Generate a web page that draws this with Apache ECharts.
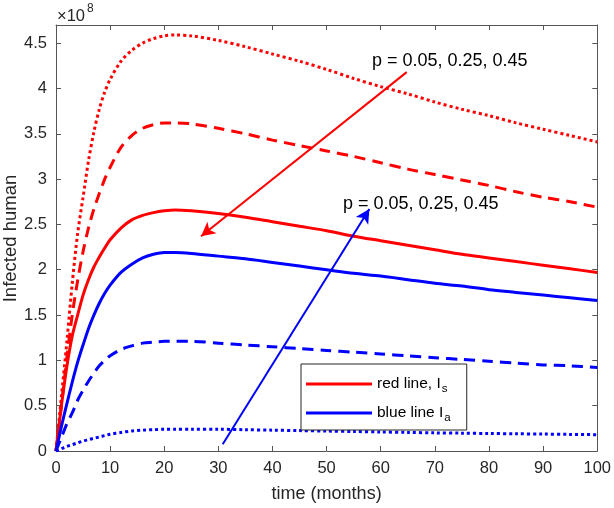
<!DOCTYPE html>
<html><head><meta charset="utf-8">
<script src="https://cdn.jsdelivr.net/npm/echarts@6/dist/echarts.min.js"></script>
<style>html,body{margin:0;padding:0;background:#fff}#c{width:614px;height:508px}</style>
</head><body><div id="c"></div>
<script>
// time (months)
const time = [0,1,2,3,4,5,6,7,8,9,10,12,14,16,18,20,22,25,30,35,40,45,50,55,60,65,70,75,80,85,90,95,100];
// Infected human, in units of 1e8
const redDotted = [0,0.6,1.2,1.85,2.4,2.8,3.2,3.52,3.77,3.96,4.1,4.3,4.42,4.5,4.55,4.58,4.59,4.58,4.53,4.46,4.38,4.30,4.21,4.11,4.02,3.94,3.85,3.77,3.70,3.62,3.55,3.48,3.41];
const redDashed = [0,0.5,1.03,1.5,1.88,2.2,2.46,2.67,2.84,3.0,3.13,3.35,3.48,3.56,3.6,3.62,3.62,3.61,3.56,3.50,3.43,3.37,3.31,3.25,3.18,3.11,3.05,2.99,2.93,2.86,2.80,2.75,2.69];
const redSolid = [0,0.5,0.93,1.27,1.5,1.72,1.89,2.03,2.14,2.24,2.33,2.46,2.55,2.6,2.63,2.65,2.66,2.65,2.62,2.58,2.53,2.48,2.43,2.37,2.32,2.27,2.22,2.17,2.13,2.09,2.05,2.01,1.97];
const blueSolid = [0,0.27,0.52,0.76,0.98,1.17,1.35,1.5,1.63,1.74,1.83,1.97,2.06,2.13,2.17,2.19,2.19,2.18,2.15,2.12,2.08,2.04,2.0,1.96,1.93,1.89,1.85,1.82,1.78,1.75,1.72,1.69,1.66];
const blueDashed = [0,0.15,0.3,0.42,0.56,0.67,0.77,0.86,0.94,1.0,1.05,1.12,1.16,1.19,1.2,1.21,1.21,1.21,1.19,1.17,1.15,1.13,1.11,1.09,1.07,1.05,1.03,1.01,0.99,0.97,0.95,0.94,0.92];
const blueDotted = [0,0.025,0.05,0.07,0.09,0.11,0.125,0.14,0.155,0.17,0.185,0.205,0.22,0.23,0.235,0.24,0.24,0.24,0.24,0.235,0.23,0.225,0.22,0.215,0.21,0.205,0.2,0.197,0.193,0.19,0.187,0.183,0.18];
// annotation arrows [from, to] in data units
const redArrow = [[64.8,4.18],[26.8,2.37]];
const blueArrow = [[30.8,0.074],[57.9,2.67]];
const annotText = 'p = 0.05, 0.25, 0.45';
const legendNames = ['red line, I_s','blue line I_a'];

const FONT = "'Liberation Sans', Arial, Helvetica, sans-serif";
const pairs = arr => time.map((t,i)=>[t,arr[i]]);
const RED = '#ff0000', BLUE = '#0000ff';
function line(name, data, color, type){
  return {name, type:'line', data:pairs(data), smooth:0.3, symbol:'none', showSymbol:false,
    lineStyle:{color, width:3, type, cap:'butt'}, itemStyle:{color}, z:3};
}
function arrow(a, color){
  return {silent:true, symbol:['none','arrow'], symbolSize:[11,14], animation:false,
    label:{show:false}, lineStyle:{color, width:2, type:'solid'},
    data:[[{coord:a[0]},{coord:a[1]}]]};
}
const s = [
  line('red dotted', redDotted, RED, [3,3]),
  line('red dashed', redDashed, RED, [11,7]),
  line(legendNames[0], redSolid, RED, 'solid'),
  line(legendNames[1], blueSolid, BLUE, 'solid'),
  line('blue dashed', blueDashed, BLUE, [11,7]),
  line('blue dotted', blueDotted, BLUE, [3,3])
];
s[2].markLine = arrow(redArrow, RED);
s[3].markLine = arrow(blueArrow, BLUE);

const axisCol = '#555';
const tickStyle = {inside:true, length:5, lineStyle:{color:axisCol}};
const chart = echarts.init(document.getElementById('c'));
chart.setOption({
  animation:false,
  backgroundColor:'#fff',
  grid:{left:56, right:14, top:25, bottom:54, containLabel:false},
  xAxis:[
    {type:'value', min:0, max:100, interval:10, position:'bottom',
     axisLine:{onZero:false, lineStyle:{color:axisCol}}, axisTick:tickStyle,
     axisLabel:{color:'#262626', fontSize:16.5, fontFamily:FONT, margin:9},
     splitLine:{show:false},
     name:'time (months)', nameLocation:'middle', nameGap:34,
     nameTextStyle:{color:'#262626', fontSize:18, fontFamily:FONT}},
    {type:'value', min:0, max:100, interval:10, position:'top',
     axisLine:{onZero:false, lineStyle:{color:axisCol}}, axisTick:tickStyle,
     axisLabel:{show:false}, splitLine:{show:false}}
  ],
  yAxis:[
    {type:'value', min:0, max:4.7, interval:0.5, position:'left',
     axisLine:{show:true, onZero:false, lineStyle:{color:axisCol}}, axisTick:Object.assign({show:true}, tickStyle),
     axisLabel:{color:'#262626', fontSize:16.5, fontFamily:FONT, margin:9, showMaxLabel:false,
       formatter:v=> (Math.abs(v*2-Math.round(v*2))<1e-6) ? String(+v.toFixed(1)) : ''},
     splitLine:{show:false}},
    {type:'value', min:0, max:4.7, interval:0.5, position:'right',
     axisLine:{show:true, onZero:false, lineStyle:{color:axisCol}}, axisTick:Object.assign({show:true}, tickStyle),
     axisLabel:{show:false}, splitLine:{show:false}}
  ],
  legend:{
    data:legendNames, left:301, top:364, orient:'vertical', icon:'rect',
    itemWidth:66, itemHeight:3, itemGap:10,
    padding:[12,16,6,5], borderColor:'#262626', borderWidth:1, backgroundColor:'#fff',
    selectedMode:false,
    formatter: n => n===legendNames[0] ? '{t|red line, I}{s|s}' : '{t|blue line I}{s|a}',
    textStyle:{color:'#000', fontFamily:FONT, fontSize:15.5,
      rich:{t:{fontSize:15.5, fontFamily:FONT, color:'#000'},
            s:{fontSize:11.5, fontFamily:FONT, color:'#000', padding:[10,0,0,1]}}}
  },
  graphic:[
    {type:'text', x:372, y:61, z:10, style:{text:annotText, font:'18px '+FONT, fill:'#000', verticalAlign:'middle'}},
    {type:'text', x:343, y:204, z:10, style:{text:annotText, font:'18px '+FONT, fill:'#000', verticalAlign:'middle'}},
    {type:'text', x:10.5, y:238.5, rotation:Math.PI/2, style:{text:'Infected human', font:'18.5px '+FONT, fill:'#262626', align:'center', verticalAlign:'middle'}},
    {type:'text', x:57, y:16, style:{text:'×10', font:'16.5px '+FONT, fill:'#262626', verticalAlign:'middle'}},
    {type:'text', x:87, y:9, style:{text:'8', font:'12px '+FONT, fill:'#262626', verticalAlign:'middle'}}
  ],
  series:s
});
</script></body></html>
